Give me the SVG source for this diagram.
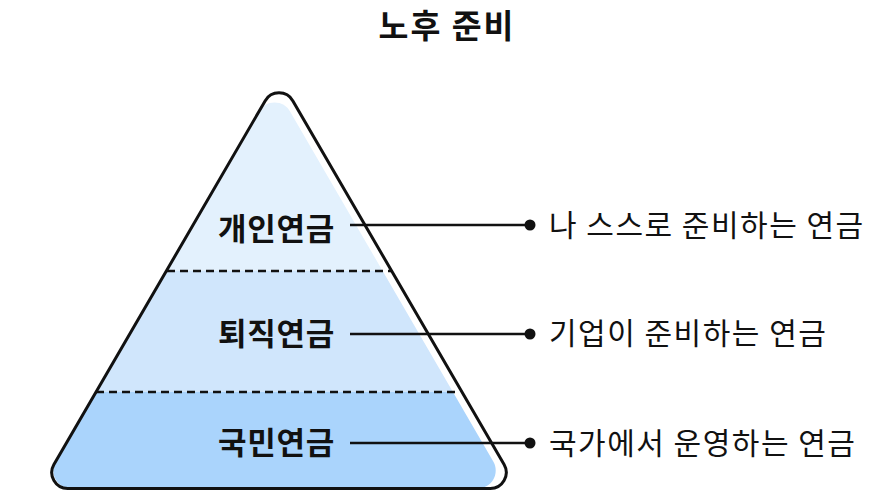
<svg xmlns="http://www.w3.org/2000/svg" width="896" height="492" viewBox="0 0 896 492">
  <style>
    .title { font-family: "Noto Sans CJK KR", "Noto Sans", sans-serif; font-size: 32.5px; font-weight: 700; fill: #111; letter-spacing: 2px; }
    .tier { font-family: "Noto Sans CJK KR", "Noto Sans", sans-serif; font-size: 31px; font-weight: 700; fill: #111; text-anchor: middle; letter-spacing: 0.7px; }
    .desc { font-family: "Noto Sans CJK KR", "Noto Sans", sans-serif; font-size: 30px; font-weight: 400; fill: #111; letter-spacing: 1.5px; }
    .dash { stroke: #111; stroke-width: 2.5; stroke-dasharray: 8 5; fill: none; }
    .conn { stroke: #111; stroke-width: 2.5; fill: none; }
    .dot { fill: #111; }
  </style>
  <defs>
    <clipPath id="fillClip">
      <path d="M258.8,111.8 A18,18 0 0 1 290.2,111.8 L493.3,461.5 A18,18 0 0 1 477.8,488.5 L71.2,488.5 A18,18 0 0 1 55.7,461.5 Z"/>
    </clipPath>
  </defs>
  <rect width="896" height="492" fill="#ffffff"/>
  <text class="title" x="447" y="38" text-anchor="middle">노후 준비</text>
  <g id="pyramid">
    <g clip-path="url(#fillClip)">
      <rect x="30" y="70" width="500" height="201" fill="#e3f1fd"/>
      <rect x="30" y="271" width="500" height="121" fill="#d0e6fc"/>
      <rect x="30" y="392" width="500" height="100" fill="#aad4fc"/>
    </g>
    <path d="M265.1,100.95 A16,16 0 0 1 292.9,100.95 L504.1,464.55 A16,16 0 0 1 490.3,488.5 L67.7,488.5 A16,16 0 0 1 53.9,464.55 Z" fill="none" stroke="#111" stroke-width="3"/>
    <line class="dash" x1="167" y1="271" x2="391" y2="271"/>
    <line class="dash" x1="96" y1="392" x2="459" y2="392"/>
  </g>
  <g id="tier-personal">
    <text class="tier" x="276.5" y="239.5">개인연금</text>
  </g>
  <g id="tier-retirement">
    <text class="tier" x="276.5" y="344.5">퇴직연금</text>
  </g>
  <g id="tier-national">
    <text class="tier" x="276.5" y="453.5">국민연금</text>
  </g>
  <g id="connectors">
    <line class="conn" x1="350" y1="225" x2="530" y2="225"/>
    <circle class="dot" cx="530" cy="225" r="5.5"/>
    <line class="conn" x1="350" y1="334" x2="530" y2="334"/>
    <circle class="dot" cx="530" cy="334" r="5.5"/>
    <line class="conn" x1="350" y1="443" x2="530" y2="443"/>
    <circle class="dot" cx="530" cy="443" r="5.5"/>
  </g>
  <g id="desc-personal">
    <text class="desc" x="549" y="235.5">나 스스로 준비하는 연금</text>
  </g>
  <g id="desc-retirement">
    <text class="desc" x="549" y="343.5">기업이 준비하는 연금</text>
  </g>
  <g id="desc-national">
    <text class="desc" x="549" y="453.5">국가에서 운영하는 연금</text>
  </g>
</svg>
